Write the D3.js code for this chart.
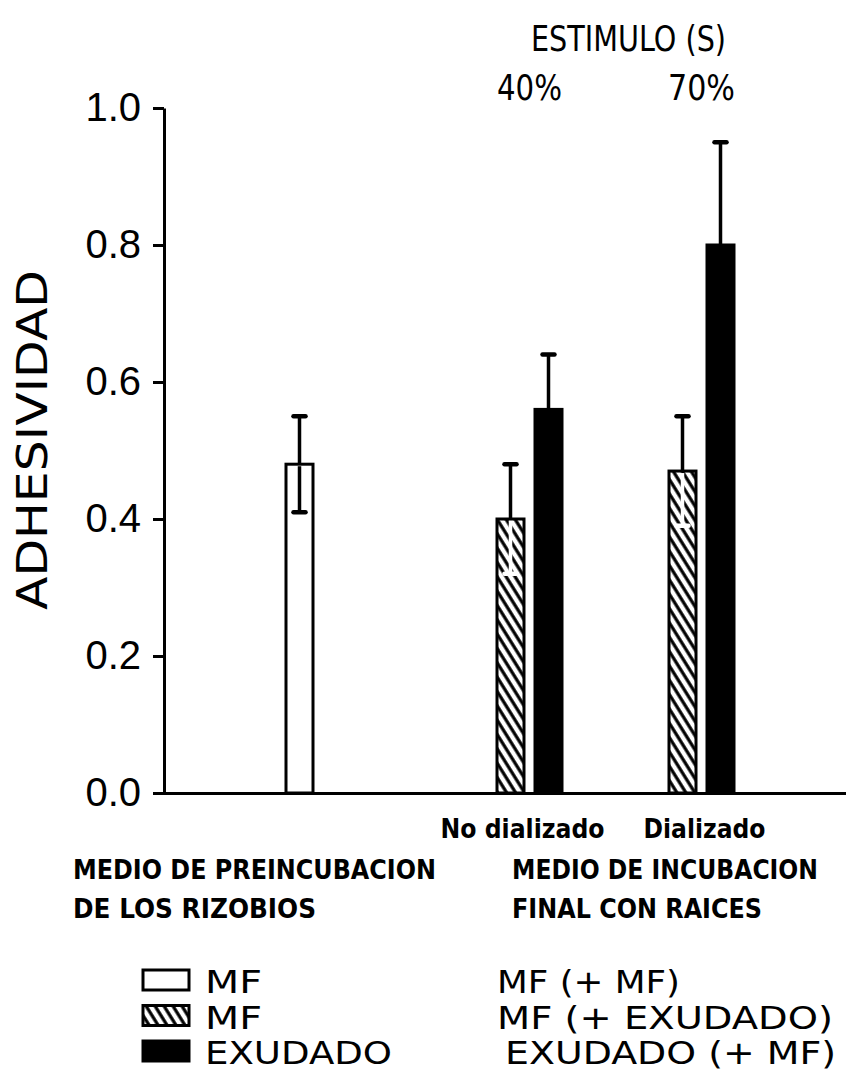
<!DOCTYPE html>
<html>
<head>
<meta charset="utf-8">
<script src="https://cdn.jsdelivr.net/npm/d3@7"></script>
<style>
  body { margin: 0; background: #fff; }
  svg { display: block; }
  .lbl { font-family: "DejaVu Sans", sans-serif; fill: #000; }
</style>
</head>
<body>
<div id="chart"></div>
<script>
// data
const groups = ["MF", "No dializado", "Dializado"];
const series = ["MF (+ MF)", "MF (+ EXUDADO)", "EXUDADO (+ MF)"];
const legendLeft = ["MF", "MF", "EXUDADO"];
const barGroup  = ["MF", "No dializado", "No dializado", "Dializado", "Dializado"];
const barSeries = ["MF (+ MF)", "MF (+ EXUDADO)", "EXUDADO (+ MF)", "MF (+ EXUDADO)", "EXUDADO (+ MF)"];
const barValue  = [0.48, 0.40, 0.56, 0.47, 0.80];
const barError  = [0.07, 0.08, 0.08, 0.08, 0.15];
const yTicks = [0, 0.2, 0.4, 0.6, 0.8, 1.0];

const bars = barValue.map((v, i) => ({ group: barGroup[i], series: barSeries[i], value: v, err: barError[i] }));

const width = 846, height = 1075;
const svg = d3.select('#chart').append('svg')
    .attr('width', width).attr('height', height);

// hatch for the MF (+ EXUDADO) bars
const defs = svg.append('defs');
const pat = defs.append('pattern')
    .attr('id', 'hatch')
    .attr('patternUnits', 'userSpaceOnUse')
    .attr('width', 7.6).attr('height', 20)
    .attr('patternTransform', 'rotate(-32)');
pat.append('rect').attr('width', 7.6).attr('height', 20).attr('fill', '#fff');
pat.append('line').attr('x1', 2).attr('x2', 2).attr('y1', 0).attr('y2', 20)
    .attr('stroke', '#000').attr('stroke-width', 3.2);

const y = d3.scaleLinear().domain([0, 1]).range([793, 108]);
const xGroup = d3.scaleOrdinal().domain(groups).range([299.5, 529.5, 701.5]);
const barW = 27, step = 38;
const fills = d3.scaleOrdinal().domain(series).range(['#fff', 'url(#hatch)', '#000']);

function barX(d) {
    const inGroup = bars.filter(b => b.group === d.group).map(b => b.series);
    const inner = d3.scaleBand().domain(inGroup)
        .range([-inGroup.length * step / 2, inGroup.length * step / 2])
        .paddingInner((step - barW) / step).paddingOuter((step - barW) / step / 2);
    return xGroup(d.group) + inner(d.series);
}

// axes
const yAxis = svg.append('g')
    .attr('transform', 'translate(164,0)')
    .call(d3.axisLeft(y).tickValues(yTicks).tickFormat(d3.format('.1f'))
        .tickSize(11).tickSizeOuter(0).tickPadding(12));
yAxis.select('.domain').attr('stroke-width', 3);
yAxis.selectAll('.tick line').attr('stroke-width', 3);
yAxis.selectAll('.tick text')
    .attr('font-family', '"Liberation Sans", Arial, sans-serif')
    .attr('font-size', 40).attr('fill', '#000');

const xs = d3.scaleLinear().domain([0, 1]).range([153, 846]);
svg.append('g')
    .attr('transform', `translate(0,${y(0)})`)
    .call(d3.axisBottom(xs).tickValues([]).tickSizeOuter(0))
    .select('.domain').attr('stroke-width', 3);

// bars
svg.append('g').selectAll('rect')
    .data(bars).join('rect')
    .attr('x', barX)
    .attr('y', d => y(d.value))
    .attr('width', barW)
    .attr('height', d => y(0) - y(d.value))
    .attr('fill', d => fills(d.series))
    .attr('stroke', '#000').attr('stroke-width', 3);

// error bars
const eb = svg.append('g').selectAll('g').data(bars).join('g')
    .attr('transform', d => `translate(${barX(d) + barW / 2},0)`);
eb.append('line')
    .attr('y1', d => y(d.value)).attr('y2', d => y(d.value + d.err))
    .attr('stroke', '#000').attr('stroke-width', 3.5);
eb.append('line')
    .attr('x1', -6).attr('x2', 6)
    .attr('y1', d => y(d.value + d.err)).attr('y2', d => y(d.value + d.err))
    .attr('stroke', '#000').attr('stroke-width', 4.5).attr('stroke-linecap', 'round');
const lower = eb.filter(d => d.series !== series[2]);
lower.append('line')
    .attr('y1', d => y(d.value) + 2).attr('y2', d => y(d.value - d.err))
    .attr('stroke', d => d.series === series[0] ? '#000' : '#fff').attr('stroke-width', 3.5);
lower.append('line')
    .attr('x1', -6).attr('x2', 6)
    .attr('y1', d => y(d.value - d.err)).attr('y2', d => y(d.value - d.err))
    .attr('stroke', d => d.series === series[0] ? '#000' : '#fff')
    .attr('stroke-width', 4.5).attr('stroke-linecap', 'round');

// texts: drawn at a small size, then stretched to the height seen in the figure
function txt(x, yy, s, size, len, weight, sy) {
    return svg.append('text').attr('class', 'lbl')
        .attr('transform', `translate(${x},${yy}) scale(1,${sy || 1})`)
        .attr('font-size', size).attr('font-weight', weight || 'normal')
        .attr('textLength', len).attr('lengthAdjust', 'spacingAndGlyphs')
        .text(s);
}

svg.append('text').attr('class', 'lbl')
    .attr('transform', 'translate(47,440) rotate(-90)')
    .attr('text-anchor', 'middle')
    .attr('font-family', '"Liberation Sans", Arial, sans-serif')
    .attr('font-size', 42)
    .attr('textLength', 340).attr('lengthAdjust', 'spacingAndGlyphs')
    .text('ADHESIVIDAD');

txt(531, 51, 'ESTIMULO (S)', 36, 195);
txt(497, 100, '40%', 35, 65);
txt(668, 100, '70%', 35, 67);

txt(xGroup(groups[1]) - 89, 838, groups[1], 26, 164, 'bold');
txt(xGroup(groups[2]) - 58, 838, groups[2], 22, 122, 'bold', 1.18);

txt(73, 879, 'MEDIO DE PREINCUBACION', 26, 363, 'bold');
txt(73, 918, 'DE LOS RIZOBIOS', 26, 243, 'bold');
txt(512, 879, 'MEDIO DE INCUBACION', 22, 306, 'bold', 1.18);
txt(512, 918, 'FINAL CON RAICES', 22, 250, 'bold', 1.18);

// legend
const leftLens = [57, 57, 187];
const rightLens = [183, 336, 331];
const rightX = [497, 497, 505];
const lg = svg.append('g').selectAll('g').data(series).join('g')
    .attr('transform', (d, i) => `translate(0,${970 + i * 35.5})`);
lg.append('rect')
    .attr('x', 143).attr('y', 0).attr('width', 46).attr('height', 20)
    .attr('fill', d => fills(d)).attr('stroke', '#000').attr('stroke-width', 3);
lg.append('text').attr('class', 'lbl')
    .attr('x', 205).attr('y', 23).attr('font-size', 32)
    .attr('textLength', (d, i) => leftLens[i]).attr('lengthAdjust', 'spacingAndGlyphs')
    .text((d, i) => legendLeft[i]);
lg.append('text').attr('class', 'lbl')
    .attr('x', (d, i) => rightX[i]).attr('y', 23).attr('font-size', 32)
    .attr('textLength', (d, i) => rightLens[i]).attr('lengthAdjust', 'spacingAndGlyphs')
    .text(d => d);
</script>
</body>
</html>
